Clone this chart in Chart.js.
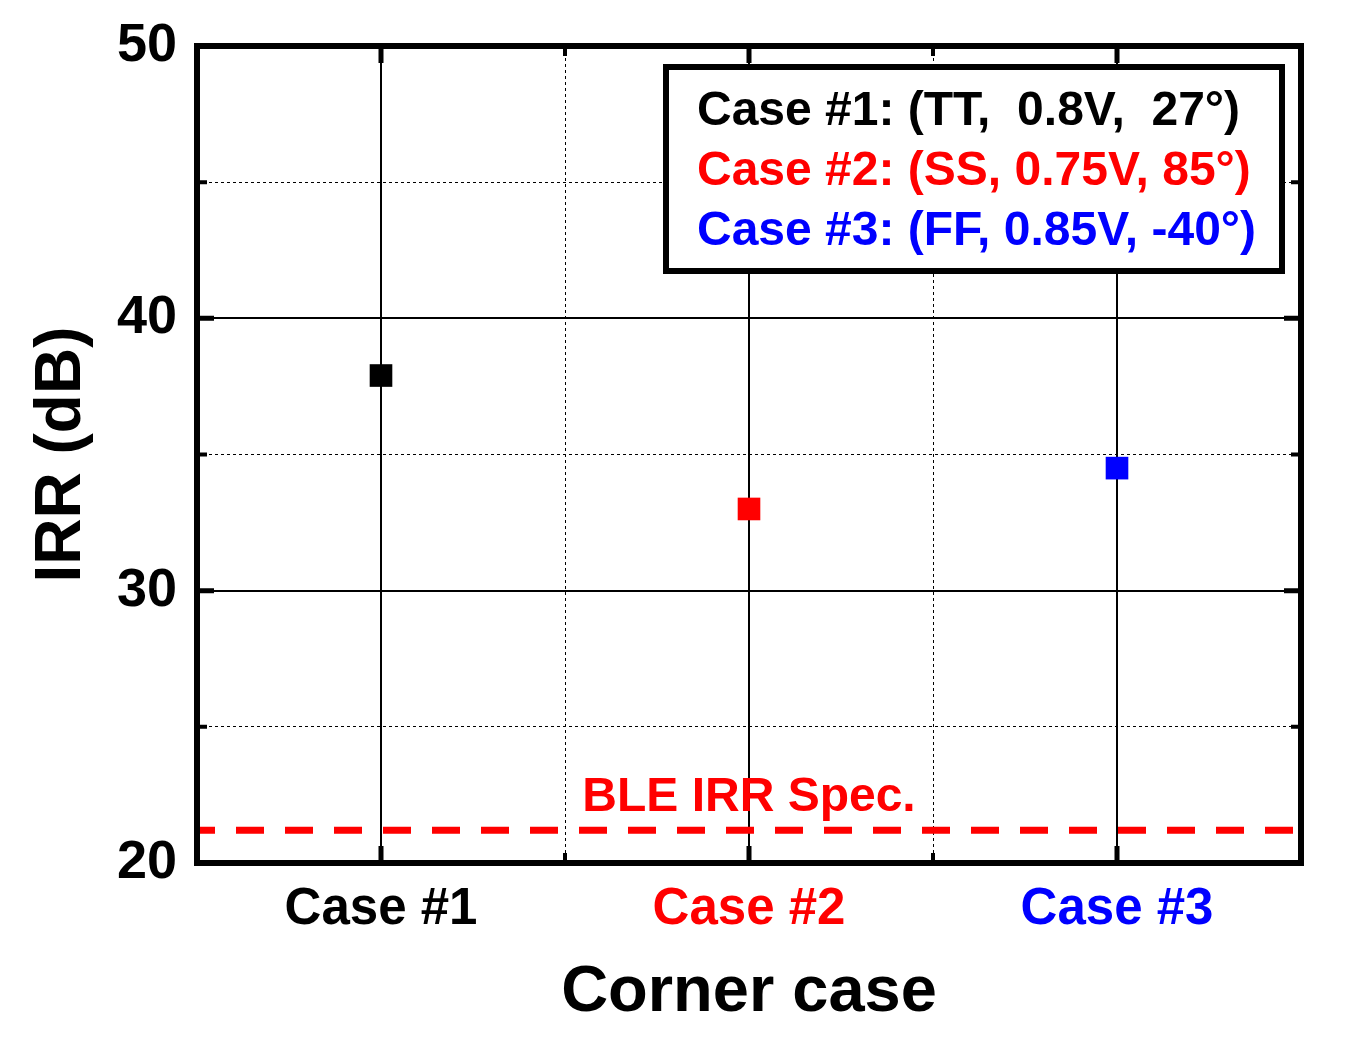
<!DOCTYPE html>
<html>
<head>
<meta charset="utf-8">
<script src="https://cdn.jsdelivr.net/npm/chart.js@4.4.1/dist/chart.umd.min.js"></script>
<style>
  body { margin: 0; background: #fff; }
  #wrap { width: 1362px; height: 1042px; }
</style>
</head>
<body>
<div id="wrap"><canvas id="irrChart"></canvas></div>
<script>
const cases = ["Case #1", "Case #2", "Case #3"];
const irr = [37.9, 33.0, 34.5];
const caseColors = ["#000000", "#ff0000", "#0000ff"];
const cornerInfo = ["Case #1: (TT,  0.8V,  27°)", "Case #2: (SS, 0.75V, 85°)", "Case #3: (FF, 0.85V, -40°)"];
const yTicks = [20, 25, 30, 35, 40, 45, 50];
const specValue = 21.2;
const specLabel = "BLE IRR Spec.";

const FONT = '"Liberation Sans", Arial, sans-serif';
Chart.defaults.font.family = FONT;
Chart.defaults.color = "#000";

const isMajorY = v => v % 10 === 0;
const isMajorX = v => Number.isInteger(v);

const framePlugin = {
    id: "frame",
    beforeDatasetsDraw(chart) {
        const { ctx, chartArea: a, scales: { x, y } } = chart;
        const ys = y.getPixelForValue(specValue);
        // spec line
        ctx.save();
        ctx.beginPath();
        ctx.rect(a.left, a.top, a.right - a.left, a.bottom - a.top);
        ctx.clip();
        ctx.strokeStyle = "#ff0000";
        ctx.lineWidth = 7;
        ctx.setLineDash([28, 21]);
        ctx.beginPath();
        ctx.moveTo(a.left - 10, ys);
        ctx.lineTo(a.right, ys);
        ctx.stroke();
        ctx.restore();
        // spec label
        ctx.save();
        ctx.font = "bold 48px " + FONT;
        ctx.fillStyle = "#ff0000";
        ctx.textAlign = "center";
        ctx.textBaseline = "alphabetic";
        ctx.fillText(specLabel, x.getPixelForValue(1), ys - 19);
        ctx.restore();
    },
    afterDraw(chart) {
        const { ctx, chartArea: a, scales: { x, y } } = chart;
        ctx.save();
        ctx.strokeStyle = "#000";
        ctx.setLineDash([]);
        // inner ticks
        y.ticks.forEach(t => {
            const py = y.getPixelForValue(t.value);
            const len = isMajorY(t.value) ? 17 : 10;
            ctx.lineWidth = isMajorY(t.value) ? 5 : 4;
            ctx.beginPath();
            ctx.moveTo(a.left, py); ctx.lineTo(a.left + len, py);
            ctx.moveTo(a.right, py); ctx.lineTo(a.right - len, py);
            ctx.stroke();
        });
        x.ticks.forEach(t => {
            const px = x.getPixelForValue(t.value);
            const len = isMajorX(t.value) ? 17 : 10;
            ctx.lineWidth = isMajorX(t.value) ? 5 : 4;
            ctx.beginPath();
            ctx.moveTo(px, a.bottom); ctx.lineTo(px, a.bottom - len);
            ctx.moveTo(px, a.top); ctx.lineTo(px, a.top + len);
            ctx.stroke();
        });
        // frame
        ctx.lineWidth = 6;
        ctx.strokeRect(a.left, a.top, a.right - a.left, a.bottom - a.top);
        // legend box
        ctx.fillStyle = "#fff";
        ctx.fillRect(666, 67, 616, 204);
        ctx.lineWidth = 6;
        ctx.strokeRect(666, 67, 616, 204);
        ctx.font = "bold 48px " + FONT;
        ctx.textAlign = "left";
        ctx.textBaseline = "middle";
        cornerInfo.forEach((txt, i) => {
            ctx.fillStyle = caseColors[i];
            ctx.fillText(txt, 697, 112 + i * 60);
        });
        ctx.restore();
    }
};

const ctx = document.getElementById("irrChart").getContext("2d");

new Chart(ctx, {
    type: "scatter",
    data: {
        datasets: [
            {
                label: "IRR",
                data: irr.map((v, i) => ({ x: i, y: v })),
                pointStyle: "rect",
                pointRadius: 16,
                pointBorderWidth: 0,
                pointBackgroundColor: caseColors,
                showLine: false,
            },
        ],
    },
    options: {
        responsive: true,
        maintainAspectRatio: false,
        animation: false,
        events: [],
        layout: {
            padding: { top: 46, right: 61, left: 0, bottom: 0 },
        },
        scales: {
            x: {
                type: "linear",
                min: -0.5,
                max: cases.length - 0.5,
                afterFit(scale) { scale.height = 179; },
                ticks: {
                    stepSize: 0.5,
                    autoSkip: false,
                    maxRotation: 0,
                    padding: 16,
                    font: { size: 51, weight: "bold" },
                    color: c => (c.tick && isMajorX(c.tick.value) ? caseColors[c.tick.value] : "#000"),
                    callback: v => (isMajorX(v) ? cases[v] : ""),
                },
                grid: {
                    drawTicks: false,
                    color: "#000",
                    lineWidth: c => (c.tick && isMajorX(c.tick.value) ? 2 : 1),
                },
                border: {
                    display: false,
                    dash: c => (c.tick && isMajorX(c.tick.value) ? [] : [3, 3]),
                },
                title: {
                    display: true,
                    text: "Corner case",
                    font: { size: 65, weight: "bold", lineHeight: 1 },
                    padding: { top: 0, bottom: 16 },
                },
            },
            y: {
                min: 20,
                max: 50,
                afterFit(scale) { scale.width = 197; },
                afterBuildTicks(scale) { scale.ticks = yTicks.map(v => ({ value: v })); },
                ticks: {
                    padding: 20,
                    font: { size: 54, weight: "bold", lineHeight: 0.9 },
                    callback: v => (isMajorY(v) ? v : ""),
                },
                grid: {
                    drawTicks: false,
                    color: "#000",
                    lineWidth: c => (c.tick && isMajorY(c.tick.value) ? 2 : 1),
                },
                border: {
                    display: false,
                    dash: c => (c.tick && isMajorY(c.tick.value) ? [] : [3, 3]),
                },
                title: {
                    display: true,
                    text: "IRR (dB)",
                    font: { size: 64, weight: "bold", lineHeight: 1 },
                    padding: { top: 30, bottom: 0 },
                },
            },
        },
        plugins: {
            legend: { display: false },
            tooltip: { enabled: false },
        },
    },
    plugins: [framePlugin],
});
</script>
</body>
</html>
